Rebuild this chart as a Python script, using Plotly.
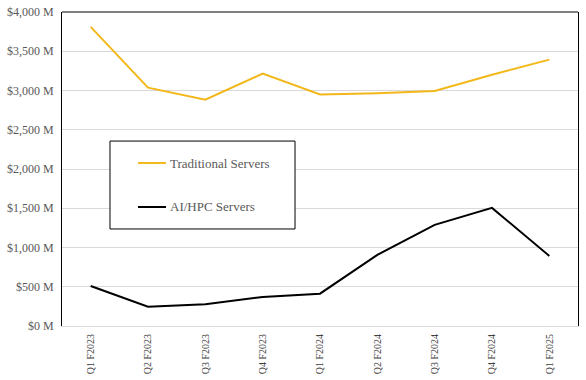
import plotly.graph_objects as go

quarters = ["Q1 F2023", "Q2 F2023", "Q3 F2023", "Q4 F2023", "Q1 F2024",
            "Q2 F2024", "Q3 F2024", "Q4 F2024", "Q1 F2025"]
traditional = [3810, 3036, 2883, 3215, 2950, 2965, 2993, 3200, 3393]
ai_hpc = [510, 246, 277, 370, 412, 905, 1288, 1505, 893]
series_names = ["Traditional Servers", "AI/HPC Servers"]
series_colors = ["#F2B81A", "#000000"]

font_family = "Liberation Serif, DejaVu Serif, serif"
text_gray = "#595959"

fig = go.Figure()
for name, vals, col in zip(series_names, [traditional, ai_hpc], series_colors):
    fig.add_trace(go.Scatter(x=quarters, y=vals, mode="lines", name=name,
                             line=dict(color=col, width=2), showlegend=False))

fig.update_layout(
    width=586, height=380,
    margin=dict(l=62, r=8, t=12, b=54),
    paper_bgcolor="white", plot_bgcolor="white",
    font=dict(family=font_family, color=text_gray, size=11),
    showlegend=False,
    xaxis=dict(type="category", range=[-0.5, 8.5], tickangle=-90,
               showgrid=False, showline=True, linecolor="#d9d9d9",
               linewidth=1, ticks="", automargin=False, ticklabelstandoff=3,
               tickfont=dict(size=10, color="#404040")),
    yaxis=dict(range=[0, 4000], dtick=500, tickprefix="$", ticksuffix=" M",
               tickformat=",", showgrid=True, gridcolor="#d9d9d9",
               showline=True, linecolor="black", linewidth=1, mirror=True,
               ticks="", zeroline=False, automargin=False, ticklabelstandoff=5,
               tickfont=dict(size=12, color=text_gray)),
)
fig.add_shape(type="line", xref="paper", yref="paper", x0=0, x1=1, y0=1, y1=1,
              line=dict(color="black", width=1))

# Legend box (drawn as a framed key)
fig.add_shape(type="rect", xref="paper", yref="paper",
              x0=0.093, x1=0.4516, y0=0.309, y1=0.589,
              line=dict(color="black", width=1), fillcolor="white", layer="above")
for name, col, ly in zip(series_names, series_colors, [0.519, 0.379]):
    fig.add_shape(type="line", xref="paper", yref="paper",
                  x0=0.1473, x1=0.2016, y0=ly, y1=ly,
                  line=dict(color=col, width=2), layer="above")
    fig.add_annotation(xref="paper", yref="paper", x=0.2054, y=ly,
                       xanchor="left", yanchor="middle", text=name,
                       showarrow=False,
                       font=dict(family=font_family, size=13, color=text_gray))

fig.write_html("out.html", config={"displayModeBar": False},
               post_script="document.body.style.margin='0';document.body.style.overflow='hidden';")
